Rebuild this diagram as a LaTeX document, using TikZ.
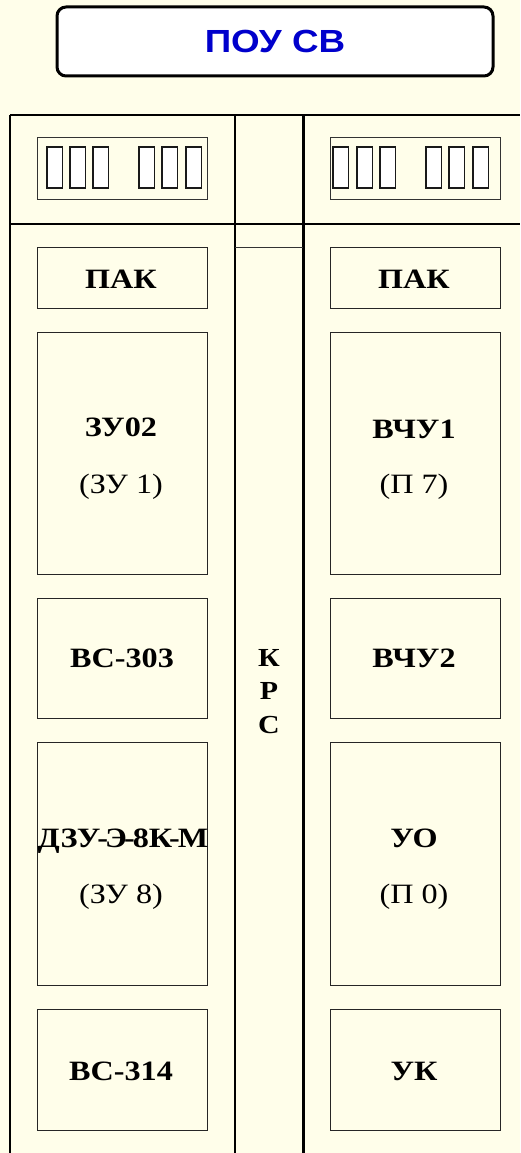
\documentclass[tikz,border=0pt]{standalone}
\usepackage{fontspec}
\setmainfont{Liberation Serif}
\newfontfamily\serifw[FakeStretch=1.15]{Liberation Serif}
\newfontfamily\sansw[FakeStretch=1.15]{Liberation Sans}
\definecolor{bgcream}{RGB}{255,254,234}
\definecolor{titleblue}{RGB}{0,0,204}
\begin{document}
\begin{tikzpicture}[x=1pt,y=-1pt,
  unitbox/.style={draw=black!85,line width=1pt,fill=bgcream,minimum width=170pt,inner sep=0pt},
  boldlab/.style={anchor=base,inner sep=0pt,font=\serifw\bfseries\fontsize{28}{34}\selectfont},
  reglab/.style={anchor=base,inner sep=0pt,font=\serifw\fontsize{28}{34}\selectfont},
  rackline/.style={draw=black,line width=2pt},
  cell/.style={draw=black!90,line width=1.5pt,fill=white},
  dispbox/.style={draw=black!80,line width=1pt,fill=bgcream,minimum width=170pt,minimum height=62pt,inner sep=0pt}]
\fill[bgcream] (0,0) rectangle (520,1153);
\useasboundingbox (0,0) rectangle (520,1153);
% title
\node[draw=black,line width=3pt,rounded corners=9pt,fill=white,minimum width=436pt,minimum height=69pt,
  font=\sansw\bfseries\fontsize{32}{36}\selectfont,text=titleblue] (title) at (275,41.5) {ПОУ СВ};
% rack frame
\coordinate (tl) at (10,115);
\coordinate (tr) at (520,115);
\coordinate (ml) at (10,224);
\coordinate (mr) at (520,224);
\coordinate (bl) at (10,1153);
\coordinate (c1t) at (235,115);
\coordinate (c1b) at (235,1153);
\coordinate (c2t) at (303,115);
\coordinate (c2b) at (303,1153);
\coordinate (k1) at (235,247);
\coordinate (k2) at (303,247);
\draw[rackline] (tl) -- (tr);
\draw[rackline] (ml) -- (mr);
\draw[draw=black,line width=1.5pt] (tl) -- (bl);
\draw[rackline] (c1t) -- (c1b);
\draw[draw=black,line width=3pt] (c2t) -- (c2b);
\draw[draw=black!80,line width=0.8pt] (k1) -- (k2);
% displays
\node[dispbox] (dispL) at (122,168) {};
\node[dispbox] (dispR) at (415,168) {};
\foreach \x in {47,70,93,139,162,186}{
  \draw[cell] (\x,147) rectangle ++(15.5,41);
}
\foreach \x in {333,357,380,426,449,473}{
  \draw[cell] (\x,147) rectangle ++(15.5,41);
}
% left column boxes
\node[unitbox,minimum height=61pt] (pakL) at (122,277.5) {};
\node[unitbox,minimum height=242pt] (zu02) at (122,453) {};
\node[unitbox,minimum height=120pt] (vs303) at (122,658) {};
\node[unitbox,minimum height=243pt] (dzu) at (122,863.5) {};
\node[unitbox,minimum height=121pt] (vs314) at (122,1069.5) {};
% right column boxes
\node[unitbox,minimum height=61pt] (pakR) at (415,277.5) {};
\node[unitbox,minimum height=242pt] (vchu1) at (415,453) {};
\node[unitbox,minimum height=120pt] (vchu2) at (415,658) {};
\node[unitbox,minimum height=243pt] (uo) at (415,863.5) {};
\node[unitbox,minimum height=121pt] (uk) at (415,1069.5) {};
% labels
\node[boldlab] (pakLt) at (121,288) {ПАК};
\node[boldlab] (zu02t) at (121,436) {ЗУ02};
\node[reglab] (zu02s) at (121,493) {(ЗУ 1)};
\node[boldlab] (vs303t) at (122,667) {ВС-303};
\node[boldlab] (dzut) at (123,847) {ДЗУ\kern-3pt-\kern-3ptЭ\kern-3pt-\kern-2pt8К\kern-3pt-\kern-2ptМ};
\node[reglab] (dzus) at (121,903) {(ЗУ 8)};
\node[boldlab] (vs314t) at (121,1080) {ВС-314};
\node[boldlab] (pakRt) at (414,288) {ПАК};
\node[boldlab] (vchu1t) at (414,438) {ВЧУ1};
\node[reglab] (vchu1s) at (414,493) {(П 7)};
\node[boldlab] (vchu2t) at (414,667) {ВЧУ2};
\node[boldlab] (uot) at (414,847) {УО};
\node[reglab] (uos) at (414,903) {(П 0)};
\node[boldlab] (ukt) at (414,1080) {УК};
% KRS
\node[boldlab,font=\serifw\bfseries\fontsize{26}{30}\selectfont] (krsK) at (269,666) {К};
\node[boldlab,font=\serifw\bfseries\fontsize{26}{30}\selectfont] (krsP) at (269,699) {Р};
\node[boldlab,font=\serifw\bfseries\fontsize{26}{30}\selectfont] (krsC) at (269,733) {С};
\end{tikzpicture}
\end{document}
